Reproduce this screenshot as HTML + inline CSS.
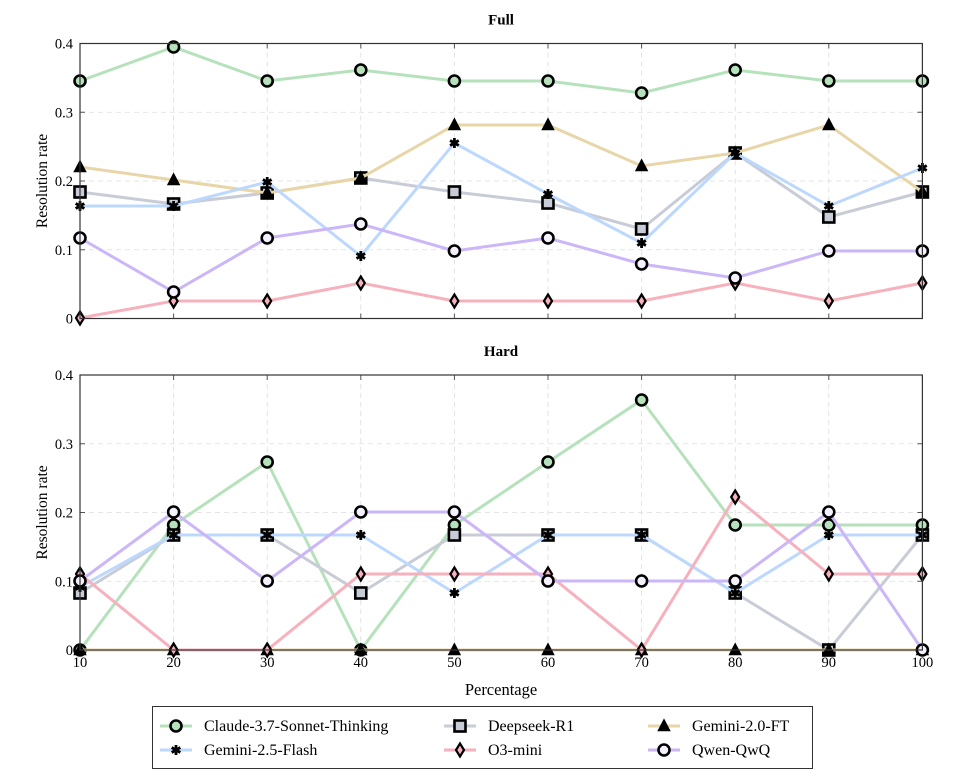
<!DOCTYPE html>
<html><head><meta charset="utf-8"><style>
html,body{margin:0;padding:0;background:#fff;}
svg{display:block;font-family:"Liberation Serif",serif;}
</style></head><body>
<svg id="s" width="964" height="784" viewBox="0 0 964 784" xmlns="http://www.w3.org/2000/svg"></svg>
<script>
const S=document.getElementById('s');
let h='';
const X=[80,173.6,267.2,360.8,454.4,548,641.6,735.2,828.8,922.4];
const ser=[
 {c:'#b5e2bb',m:'circle',f:'#b5e2bb'},
 {c:'#c8ccd6',m:'square',f:'#c8ccd6'},
 {c:'#e8d6a8',m:'tri',f:'#e8d6a8'},
 {c:'#bcd8ff',m:'star',f:'#000'},
 {c:'#f7b1bd',m:'diamond',f:'#f7b1bd'},
 {c:'#cbb6f7',m:'circle',f:'#f4f0fc'}
];
function mk(m,x,y,f){
 if(m=='circle')return `<circle cx="${x}" cy="${y}" r="5.5" fill="${f}" stroke="#000" stroke-width="2.6"/>`;
 if(m=='square')return `<rect x="${x-5.5}" y="${y-5.5}" width="11" height="11" fill="${f}" stroke="#000" stroke-width="2.6"/>`;
 if(m=='tri')return `<polygon points="${x},${y-6} ${x+5.5},${y+4.5} ${x-5.5},${y+4.5}" fill="#000" stroke="#000" stroke-width="1.5"/>`;
 if(m=='diamond')return `<polygon points="${x},${y-6.5} ${x+4},${y} ${x},${y+6.5} ${x-4},${y}" fill="${f}" stroke="#000" stroke-width="2.2"/>`;
 if(m=='star'){let p='';for(let i=0;i<3;i++){const a=i*Math.PI/3+Math.PI/2;p+=`M${x+5*Math.cos(a)},${y-5*Math.sin(a)}L${x-5*Math.cos(a)},${y+5*Math.sin(a)}`;}return `<path d="${p}" stroke="#000" stroke-width="2.8"/>`;}
}
function plot(top,bot,title,data,xlabels){
 const L=80,R=922.4;
 h+=`<text x="501" y="${top-19}" font-size="15" font-weight="bold" text-anchor="middle">${title}</text>`;
 for(let i=1;i<9;i++)h+=`<line x1="${X[i]}" y1="${top}" x2="${X[i]}" y2="${bot}" stroke="#ddd" stroke-dasharray="5,4" stroke-width="0.8"/>`;
 for(let k=1;k<4;k++){const y=bot-(bot-top)*k/4;h+=`<line x1="${L}" y1="${y}" x2="${R}" y2="${y}" stroke="#ddd" stroke-dasharray="5,4" stroke-width="0.8"/>`;}
 for(let k=0;k<5;k++){const y=bot-(bot-top)*k/4;h+=`<line x1="${L}" y1="${y}" x2="${L+5}" y2="${y}" stroke="#555"/><line x1="${R}" y1="${y}" x2="${R-5}" y2="${y}" stroke="#555"/><text x="73" y="${y+5}" font-size="14.5" text-anchor="end">${k==0?'0':'0.'+k}</text>`;}
 for(let i=0;i<10;i++)h+=`<line x1="${X[i]}" y1="${bot}" x2="${X[i]}" y2="${bot-5}" stroke="#555"/><line x1="${X[i]}" y1="${top}" x2="${X[i]}" y2="${top+5}" stroke="#555"/>`;
 h+=`<text transform="translate(47,${(top+bot)/2}) rotate(-90)" font-size="15.5" text-anchor="middle">Resolution rate</text>`;
 data.forEach((d,j)=>{const s=ser[j];h+=`<polyline points="${d.map((y,i)=>X[i]+','+y).join(' ')}" fill="none" stroke="${s.c}" stroke-width="3"/>`;d.forEach((y,i)=>h+=mk(s.m,X[i],y,s.f));});
 h+=`<rect x="${L}" y="${top}" width="${R-L}" height="${bot-top}" fill="none" stroke="#333" stroke-width="1.2"/>`;
 if(xlabels){for(let i=0;i<10;i++)h+=`<text x="${X[i]}" y="667" font-size="14.5" text-anchor="middle">${(i+1)*10}</text>`;}
}
plot(43.5,318.5,'Full',[
 [81,47,81,70,81,81,93,70,81,81],
 [192,204,193,178,192,203,229,153,217,192],
 [167,180,193,178,125,125,166,153,125,192],
 [206,206,182,256,143,194,243,153,206,168],
 [318,301,301,283,301,301,301,283,301,283],
 [238,292,238,224,251,238,264,278,251,251]],false);
plot(375,650,'Hard',[
 [650,525,462,650,525,462,400,525,525,525],
 [593,535,535,593,535,535,535,593,650,535],
 [650,650,650,650,650,650,650,650,650,650],
 [587,535,535,535,593,535,535,593,535,535],
 [574,650,650,574,574,574,650,497,574,574],
 [581,512,581,512,512,581,581,581,512,650]],true);
h+=`<text x="501" y="695" font-size="16.5" text-anchor="middle">Percentage</text>`;
h+=`<rect x="152.5" y="706.5" width="660" height="62" fill="#fff" stroke="#333" stroke-width="1"/>`;
const leg=[['Claude-3.7-Sonnet-Thinking',0,176,726],['Deepseek-R1',1,460,726],['Gemini-2.0-FT',2,664,726],['Gemini-2.5-Flash',3,176,750],['O3-mini',4,460,750],['Qwen-QwQ',5,664,750]];
leg.forEach(([t,j,x,y])=>{const s=ser[j];h+=`<line x1="${x-16}" y1="${y}" x2="${x+16}" y2="${y}" stroke="${s.c}" stroke-width="3"/>`+mk(s.m,x,y,s.f)+`<text x="${x+28}" y="${y+5}" font-size="16">${t}</text>`;});
S.innerHTML=h;
</script>
</body></html>
